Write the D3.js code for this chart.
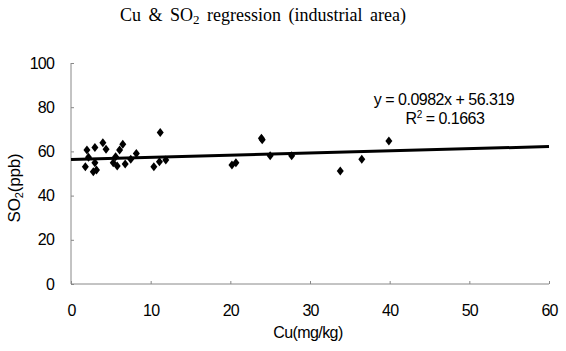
<!DOCTYPE html>
<html><head><meta charset="utf-8">
<script src="https://cdn.jsdelivr.net/npm/d3@7"></script>
<style>
body{margin:0;background:#fff;}
svg{display:block;}
</style></head>
<body>
<svg id="chart" width="566" height="351"></svg>
<script>
const cuValues = [1.8, 2.0, 2.2, 2.8, 3.0, 3.0, 3.2, 4.0, 4.4, 5.3, 5.6, 5.8, 6.1, 6.5, 6.8, 7.5, 8.2, 10.4, 11.1, 11.2, 11.9, 20.2, 20.7, 23.9, 24.0, 25.0, 27.7, 33.8, 36.5, 39.9];
const so2Values = [53.0, 60.6, 57.3, 50.8, 61.8, 54.9, 51.6, 63.9, 61.0, 54.9, 57.6, 53.4, 60.6, 63.2, 54.3, 56.4, 59.1, 53.1, 55.3, 68.6, 56.1, 53.8, 54.9, 66.0, 65.3, 58.0, 58.0, 51.1, 56.4, 64.7];
const xTicks = [0, 10, 20, 30, 40, 50, 60];
const yTicks = [0, 20, 40, 60, 80, 100];
const slope = 0.0982, intercept = 56.319;
const eqLabel = "y = 0.0982x + 56.319";
const r2Value = "0.1663";

const svg = d3.select("#chart");
const x = d3.scaleLinear().domain([0, 60]).range([71, 549]);
const y = d3.scaleLinear().domain([0, 100]).range([284, 63]);
const sans = "'Liberation Sans', Arial, sans-serif";

// title
const title = svg.append("text").attr("x", 263).attr("y", 21).attr("text-anchor", "middle")
  .style("font-family", "'Liberation Serif', serif").style("font-size", "18px").style("word-spacing", "3px");
title.append("tspan").text("Cu & SO");
title.append("tspan").text("2").attr("dy", 3).style("font-size", "13px");
title.append("tspan").text(" regression (industrial area)").attr("dy", -3);

// axes
const axisColor = "#888";
const xAxis = svg.append("g").attr("transform", "translate(0,284)")
  .call(d3.axisBottom(x).tickValues(xTicks).tickSize(-3).tickPadding(21).tickFormat(d3.format("d")));
const yAxis = svg.append("g").attr("transform", "translate(71,0)")
  .call(d3.axisLeft(y).tickValues(yTicks).tickSize(-3).tickPadding(17).tickFormat(d3.format("d")));
[xAxis, yAxis].forEach(g => {
  g.select(".domain").attr("stroke", axisColor).attr("stroke-width", 1);
  g.selectAll(".tick line").attr("stroke", axisColor);
  g.selectAll(".tick text").attr("fill", "#000")
    .style("font-family", sans).style("font-size", "16px").style("letter-spacing", "-0.8px");
});
xAxis.select(".domain").attr("d", "M71,0H549");
yAxis.select(".domain").attr("d", "M0,63V284");

// axis titles
svg.append("text").attr("x", 308).attr("y", 338).attr("text-anchor", "middle")
  .style("font-family", sans).style("font-size", "16px").style("letter-spacing", "-0.6px")
  .text("Cu(mg/kg)");
const yl = svg.append("text").attr("transform", "translate(20,188) rotate(-90)").attr("text-anchor", "middle")
  .style("font-family", sans).style("font-size", "17px").style("letter-spacing", "-0.2px");
yl.append("tspan").text("SO");
yl.append("tspan").text("2").style("font-size", "11px").attr("dy", 3);
yl.append("tspan").text("(ppb)").attr("dy", -3);

// regression line
svg.append("line")
  .attr("x1", x(0)).attr("y1", y(intercept))
  .attr("x2", x(60)).attr("y2", y(slope * 60 + intercept))
  .attr("stroke", "#000").attr("stroke-width", 3);

// points
const pts = cuValues.map((c, i) => ({c, s: so2Values[i]}));
svg.append("g").selectAll("path").data(pts).join("path")
  .attr("transform", d => `translate(${x(d.c)},${y(d.s)})`)
  .attr("d", "M0,-4.5L3.5,0L0,4.5L-3.5,0Z")
  .attr("fill", "#000");

// equation text
svg.append("text").attr("x", 444).attr("y", 105).attr("text-anchor", "middle")
  .style("font-family", sans).style("font-size", "16px").style("letter-spacing", "-0.5px")
  .text(eqLabel);
const r2 = svg.append("text").attr("x", 445).attr("y", 124).attr("text-anchor", "middle")
  .style("font-family", sans).style("font-size", "16px").style("letter-spacing", "-0.5px");
r2.append("tspan").text("R");
r2.append("tspan").text("2").style("font-size", "10px").attr("dy", -6);
r2.append("tspan").text(" = " + r2Value).attr("dy", 6);
</script>
</body></html>
